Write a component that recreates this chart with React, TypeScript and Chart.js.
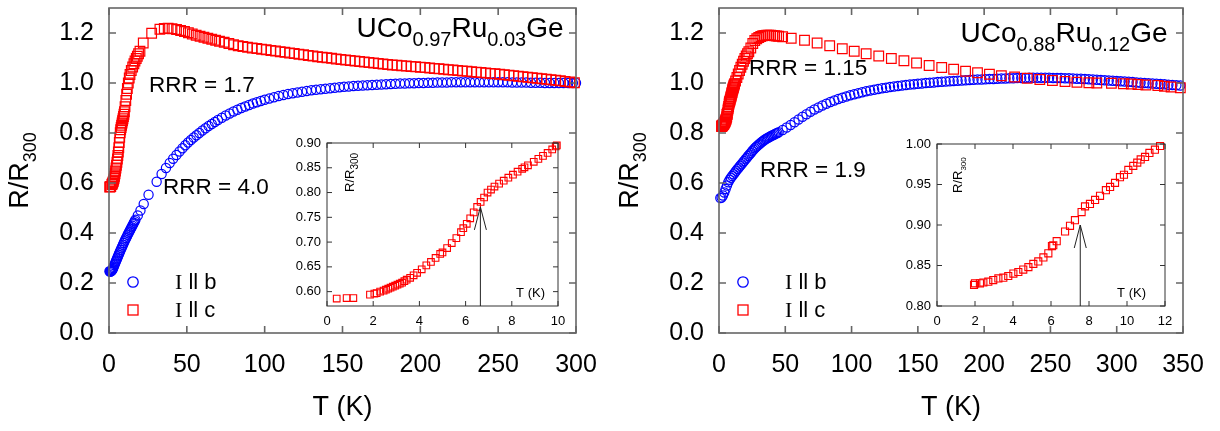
import { useEffect, useRef } from 'react';
import { Chart, registerables } from 'chart.js';

Chart.register(...registerables);

const SANS = '"Liberation Sans", Arial, Helvetica, sans-serif';
const SERIF = '"Liberation Serif", "Times New Roman", serif';
const BLUE = 'rgb(0,0,255)';
const RED = 'rgb(255,0,0)';

type Pt = [number, number];

// ---------------- tick values ----------------
const MAIN_Y_TICKS = [0, 0.2, 0.4, 0.6, 0.8, 1.0, 1.2];
const LEFT_X_TICKS = [0, 50, 100, 150, 200, 250, 300];
const RIGHT_X_TICKS = [0, 50, 100, 150, 200, 250, 300, 350];
const LEFT_INSET_X_TICKS = [0, 2, 4, 6, 8, 10];
const LEFT_INSET_Y_TICKS = [0.6, 0.65, 0.7, 0.75, 0.8, 0.85, 0.9];
const RIGHT_INSET_X_TICKS = [0, 2, 4, 6, 8, 10, 12];
const RIGHT_INSET_Y_TICKS = [0.8, 0.85, 0.9, 0.95, 1.0];

// ---------------- UCo0.97Ru0.03Ge : [T (K), R/R300] ----------------
const LEFT_I_B: Pt[] = [
  [0.3,0.247],[0.6,0.246],[0.9,0.246],[1.2,0.247],[1.5,0.248],[1.8,0.250],[2.1,0.252],[2.4,0.256],[2.7,0.260],[3.0,0.265],
  [3.4,0.271],[3.8,0.277],[4.2,0.283],[4.6,0.289],[5.0,0.295],[5.4,0.301],[5.8,0.307],[6.2,0.313],[6.6,0.319],[7.0,0.325],
  [7.5,0.332],[8.0,0.339],[8.5,0.346],[9.0,0.353],[9.5,0.360],[10,0.367],[10.5,0.374],[11,0.380],[11.5,0.386],[12,0.393],
  [12.5,0.399],[13,0.405],[13.5,0.411],[14,0.417],[14.5,0.423],[15,0.429],[15.5,0.435],[16,0.441],[16.5,0.447],[17,0.453],
  [18.5,0.470],[20.2,0.490],[22.3,0.516],[25.4,0.553],[30.6,0.605],[33.8,0.636],[36.6,0.660],[39.0,0.680],[41.2,0.697],[43.3,0.712],
  [45.3,0.726],[47.2,0.739],[49.0,0.751],[50.8,0.762],[52.6,0.772],[54.4,0.782],[56.2,0.791],[58,0.800],[60,0.810],[62,0.819],
  [64,0.828],[66,0.836],[68,0.844],[70,0.852],[72.5,0.861],[75,0.870],[77.5,0.878],[80,0.886],[82.5,0.893],[85,0.900],
  [87.5,0.906],[90,0.912],[92.5,0.918],[95,0.923],[97.5,0.928],[100,0.933],[103,0.938],[106,0.943],[109,0.948],[112,0.952],
  [115,0.956],[118,0.959],[121,0.962],[124,0.965],[127,0.968],[130,0.971],[133,0.973],[136,0.975],[139,0.977],[142,0.979],
  [145,0.981],[148,0.983],[151,0.985],[154,0.986],[157,0.988],[160,0.989],[163,0.990],[166,0.991],[169,0.992],[172,0.993],
  [175,0.994],[178,0.995],[181,0.996],[184,0.997],[187,0.998],[190,0.998],[193,0.999],[196,0.999],[199,1.000],[202,1.000],
  [205,1.001],[208,1.001],[211,1.002],[214,1.002],[217,1.002],[220,1.003],[223,1.003],[226,1.003],[229,1.003],[232,1.003],
  [235,1.003],[238,1.003],[241,1.003],[244,1.003],[247,1.003],[250,1.003],[253,1.003],[256,1.003],[259,1.002],[262,1.002],
  [265,1.002],[268,1.002],[271,1.001],[274,1.001],[277,1.001],[280,1.000],[283,1.000],[286,1.000],[289,1.000],[292,1.000],
  [295,1.000],[298,1.000],[300,1.000],
];

const LEFT_I_C: Pt[] = [
  [0.4,0.584],[0.85,0.585],[1.15,0.586],[1.85,0.594],[2.1,0.597],[2.4,0.601],[2.7,0.606],[3.0,0.612],[3.3,0.619],[3.6,0.627],
  [3.9,0.637],[4.2,0.648],[4.5,0.660],[4.8,0.671],[5.1,0.683],[5.4,0.696],[5.7,0.710],[6.0,0.724],[6.3,0.741],[6.6,0.762],
  [6.9,0.783],[7.2,0.801],[7.5,0.813],[7.8,0.822],[8.1,0.831],[8.4,0.840],[8.7,0.849],[9.0,0.857],[9.3,0.866],[9.6,0.875],
  [9.9,0.885],[10.3,0.905],[10.8,0.930],[11.3,0.955],[11.8,0.978],[12.4,1.000],[13.0,1.020],[13.5,1.034],[14.3,1.050],[15.2,1.064],
  [16.0,1.077],[16.7,1.088],[17.5,1.098],[18.2,1.107],[19.0,1.117],[19.9,1.127],[22.0,1.160],[27.4,1.199],[32.7,1.215],[35.5,1.218],
  [38.0,1.219],[40.5,1.217],[43.4,1.214],[46.0,1.210],[48.5,1.206],[51.0,1.201],[53.5,1.196],[56.0,1.191],[58.5,1.187],[61.0,1.183],
  [63.5,1.179],[66.0,1.175],[68.5,1.171],[71.0,1.167],[74.0,1.163],[77.0,1.158],[80,1.153],[83,1.149],[86,1.146],[89,1.143],
  [92,1.140],[95,1.138],[98,1.135],[101,1.133],[104,1.130],[107,1.128],[110,1.125],[113,1.123],[116,1.120],[119,1.118],
  [122,1.115],[125,1.113],[128,1.110],[131,1.108],[134,1.105],[137,1.103],[140,1.101],[143,1.099],[146,1.096],[149,1.094],
  [152,1.092],[155,1.090],[158,1.088],[161,1.086],[164,1.084],[167,1.082],[170,1.080],[173,1.078],[176,1.076],[179,1.074],
  [182,1.072],[185,1.071],[188,1.069],[191,1.068],[194,1.066],[197,1.065],[200,1.063],[203,1.062],[206,1.060],[209,1.058],
  [212,1.057],[215,1.055],[218,1.053],[221,1.052],[224,1.050],[227,1.048],[230,1.047],[233,1.045],[236,1.043],[239,1.042],
  [242,1.040],[245,1.038],[248,1.037],[251,1.035],[254,1.033],[257,1.031],[260,1.029],[263,1.027],[266,1.025],[269,1.023],
  [272,1.021],[275,1.019],[278,1.017],[281,1.015],[284,1.013],[287,1.011],[290,1.009],[293,1.006],[296,1.004],[299,1.001],
];

const LEFT_INSET_I_C: Pt[] = [
  [0.42,0.586],[0.85,0.587],[1.14,0.587],[1.86,0.594],[2.05,0.596],[2.15,0.597],[2.3,0.600],[2.45,0.602],[2.55,0.604],[2.65,0.606],
  [2.75,0.608],[2.85,0.610],[2.95,0.612],[3.05,0.614],[3.15,0.616],[3.25,0.618],[3.35,0.621],[3.45,0.624],[3.6,0.628],[3.75,0.633],
  [3.9,0.638],[4.1,0.645],[4.3,0.653],[4.5,0.660],[4.7,0.668],[4.9,0.676],[5.0,0.679],[5.2,0.688],[5.4,0.698],[5.6,0.708],
  [5.8,0.720],[5.9,0.728],[6.05,0.737],[6.2,0.748],[6.35,0.760],[6.5,0.771],[6.65,0.781],[6.8,0.790],[6.95,0.800],[7.1,0.806],
  [7.25,0.812],[7.45,0.818],[7.65,0.824],[7.85,0.830],[8.05,0.836],[8.25,0.842],[8.45,0.848],[8.55,0.851],[8.7,0.855],[8.95,0.862],
  [9.15,0.868],[9.35,0.874],[9.55,0.880],[9.75,0.887],[9.9,0.893],[9.95,0.895],
];
const LEFT_ARROW: Pt = [6.64, 0.771];

// ---------------- UCo0.88Ru0.12Ge : [T (K), R/R300] ----------------
const RIGHT_I_B: Pt[] = [
  [1,0.540],[2,0.542],[3,0.550],[4,0.562],[5,0.576],[6,0.590],[7,0.603],[8,0.613],[9,0.621],[10,0.628],
  [11,0.635],[12,0.642],[13,0.649],[14,0.656],[15,0.662],[16,0.669],[17,0.675],[18,0.682],[19,0.688],[20,0.695],
  [21,0.701],[22,0.708],[23,0.714],[24,0.720],[25,0.727],[26,0.733],[27,0.739],[28,0.744],[29,0.749],[30,0.754],
  [31,0.758],[32,0.763],[33,0.767],[34,0.771],[35,0.775],[36,0.778],[37,0.781],[38,0.784],[39,0.787],[40,0.790],
  [41,0.792],[42,0.795],[43,0.798],[44,0.800],[45,0.803],[48,0.812],[51,0.822],[54,0.832],[57,0.843],[60,0.854],
  [63,0.865],[66,0.875],[69,0.885],[72,0.894],[75,0.902],[78,0.910],[81,0.917],[84,0.924],[87,0.930],[90,0.936],
  [93,0.941],[96,0.946],[99,0.951],[102,0.955],[105,0.959],[108,0.963],[111,0.967],[114,0.970],[117,0.973],[120,0.976],
  [123,0.979],[126,0.981],[129,0.984],[132,0.986],[135,0.988],[138,0.990],[141,0.992],[144,0.994],[147,0.995],[150,0.997],
  [153,0.998],[156,1.000],[159,1.001],[162,1.002],[165,1.004],[168,1.005],[171,1.006],[174,1.007],[177,1.008],[180,1.009],
  [183,1.010],[186,1.011],[189,1.012],[192,1.013],[195,1.014],[198,1.014],[201,1.015],[204,1.016],[207,1.016],[210,1.017],
  [213,1.018],[216,1.018],[219,1.019],[222,1.019],[225,1.020],[228,1.020],[231,1.020],[234,1.021],[237,1.021],[240,1.021],
  [243,1.021],[246,1.021],[249,1.021],[252,1.020],[255,1.020],[258,1.020],[261,1.019],[264,1.019],[267,1.018],[270,1.017],
  [273,1.017],[276,1.016],[279,1.015],[282,1.014],[285,1.013],[288,1.012],[291,1.011],[294,1.010],[297,1.009],[300,1.008],
  [303,1.007],[306,1.006],[309,1.005],[312,1.004],[315,1.002],[318,1.001],[321,1.000],[324,0.999],[327,0.998],[330,0.997],
  [333,0.996],[336,0.995],[339,0.993],[342,0.992],[345,0.991],[348,0.990],
];

const RIGHT_INSET_I_C: Pt[] = [
  [1.95,0.826],[2.0,0.828],[2.26,0.828],[2.44,0.829],[2.70,0.830],[2.96,0.832],[3.23,0.834],[3.49,0.835],[3.75,0.837],[4.02,0.840],
  [4.28,0.842],[4.54,0.845],[4.81,0.848],[5.07,0.852],[5.33,0.855],[5.60,0.860],[5.86,0.865],[6.05,0.874],[6.12,0.875],[6.30,0.880],
  [6.74,0.892],[7.0,0.899],[7.26,0.906],[7.61,0.916],[7.79,0.923],[8.05,0.926],[8.32,0.931],[8.58,0.936],[8.89,0.943],[9.11,0.947],
  [9.37,0.952],[9.63,0.959],[9.84,0.962],[10.07,0.968],[10.33,0.973],[10.54,0.977],[10.72,0.981],[10.95,0.984],[11.18,0.989],[11.47,0.993],
  [11.74,0.9975],
];
const RIGHT_I_C_HIGH: Pt[] = [
  [12.5,1.008],[13.5,1.022],[14.5,1.036],[15.5,1.050],[16.5,1.063],[17.5,1.075],[18.5,1.087],[19.5,1.098],[20.5,1.108],[21.5,1.117],
  [22.5,1.125],[24,1.140],[25.5,1.158],[27,1.170],[28.5,1.177],[30,1.182],[31.5,1.186],[33,1.189],[34.5,1.190],[36,1.191],
  [37.5,1.191],[39,1.191],[40.5,1.190],[42,1.189],[43.5,1.188],[45,1.187],[48,1.185],[54.5,1.179],[64.5,1.171],[74,1.160],
  [83.5,1.149],[93,1.137],[102,1.127],[111,1.117],[120.5,1.108],[130,1.098],[139.5,1.089],[149,1.080],[158.5,1.070],[168,1.062],
  [177,1.055],[186,1.047],[195,1.041],[204,1.035],[213,1.029],[223,1.024],[232.5,1.019],[242,1.014],[251.5,1.010],[261,1.006],
  [270,1.003],[279,1.001],[285,1.000],[296,0.999],[305,0.997],[311,0.996],[316,0.994],[322,0.992],[331,0.990],[336,0.987],
  [341,0.984],[348,0.981],
];
const RIGHT_ARROW: Pt = [7.54, 0.90];

// ---------------- helpers ----------------
type Part = { t: string; size: number; dy?: number; family?: string };

function drawRich(ctx: CanvasRenderingContext2D, parts: Part[], x: number, y: number, align: 'left' | 'center' | 'right') {
  const widths = parts.map((p) => {
    ctx.font = `${p.size}px ${p.family || SANS}`;
    return ctx.measureText(p.t).width;
  });
  const total = widths.reduce((a, b) => a + b, 0);
  let cx = align === 'left' ? x : align === 'center' ? x - total / 2 : x - total;
  ctx.textAlign = 'left';
  ctx.textBaseline = 'alphabetic';
  parts.forEach((p, i) => {
    ctx.font = `${p.size}px ${p.family || SANS}`;
    ctx.fillText(p.t, cx, y + (p.dy || 0));
    cx += widths[i];
  });
}

function toXY(pts: Pt[]) {
  return pts.map(([x, y]) => ({ x, y }));
}

function framePlugin(tickLen: number, color: string, lw: number, fillWhite: boolean) {
  return {
    id: 'frameTicks',
    beforeDatasetsDraw(chart: any) {
      if (!fillWhite) return;
      const { ctx, chartArea: a } = chart;
      ctx.save();
      ctx.fillStyle = '#fff';
      ctx.fillRect(a.left, a.top, a.right - a.left, a.bottom - a.top);
      ctx.restore();
    },
    afterDraw(chart: any) {
      const { ctx, chartArea: a } = chart;
      const xs = chart.scales.x;
      const ys = chart.scales.y;
      ctx.save();
      ctx.strokeStyle = color;
      ctx.lineWidth = lw;
      ctx.strokeRect(a.left, a.top, a.right - a.left, a.bottom - a.top);
      ctx.beginPath();
      xs.ticks.forEach((t: any) => {
        const px = xs.getPixelForValue(t.value);
        ctx.moveTo(px, a.bottom);
        ctx.lineTo(px, a.bottom - tickLen);
        ctx.moveTo(px, a.top);
        ctx.lineTo(px, a.top + tickLen);
      });
      ys.ticks.forEach((t: any) => {
        const py = ys.getPixelForValue(t.value);
        ctx.moveTo(a.left, py);
        ctx.lineTo(a.left + tickLen, py);
        ctx.moveTo(a.right, py);
        ctx.lineTo(a.right - tickLen, py);
      });
      ctx.stroke();
      ctx.restore();
    },
  };
}

function scatterSet(pts: Pt[], color: string, style: string, radius: number, bw: number) {
  return {
    data: toXY(pts),
    showLine: false,
    pointStyle: style,
    pointRadius: radius,
    pointHoverRadius: radius,
    pointBorderColor: color,
    pointBackgroundColor: 'rgba(0,0,0,0)',
    pointBorderWidth: bw,
    borderColor: color,
    backgroundColor: 'rgba(0,0,0,0)',
    clip: false,
  };
}

type MainCfg = {
  xMax: number;
  xTicks: number[];
  padRight: number;
  red: Pt[];
  blue: Pt[];
  formula: Part[];
  formulaX: number;
  formulaY: number;
  rrrTop: { t: string; x: number; y: number };
  rrrBot: { t: string; x: number; y: number };
};

function makeMain(canvas: HTMLCanvasElement, cfg: MainCfg) {
  const textPlugin = {
    id: 'mainText',
    afterDraw(chart: any) {
      const { ctx, chartArea: a } = chart;
      ctx.save();
      ctx.fillStyle = '#000';
      drawRich(ctx, cfg.formula, cfg.formulaX, cfg.formulaY, 'center');
      drawRich(ctx, [{ t: cfg.rrrTop.t, size: 22.5 }], cfg.rrrTop.x, cfg.rrrTop.y, 'left');
      drawRich(ctx, [{ t: cfg.rrrBot.t, size: 22.5 }], cfg.rrrBot.x, cfg.rrrBot.y, 'left');
      ctx.font = `27px ${SANS}`;
      ctx.textAlign = 'center';
      ctx.textBaseline = 'middle';
      ctx.fillText('T (K)', (a.left + a.right) / 2, 408);
      ctx.save();
      ctx.translate(28, (a.top + a.bottom) / 2);
      ctx.rotate(-Math.PI / 2);
      drawRich(ctx, [{ t: 'R/R', size: 27 }, { t: '300', size: 18, dy: 8 }], 0, 0, 'center');
      ctx.restore();
      // legend
      ctx.strokeStyle = BLUE;
      ctx.lineWidth = 1.3;
      ctx.beginPath();
      ctx.arc(133, 282, 5.2, 0, Math.PI * 2);
      ctx.stroke();
      ctx.strokeStyle = RED;
      ctx.strokeRect(128, 305, 10, 10);
      ctx.fillStyle = '#000';
      drawRich(ctx, [{ t: 'I', size: 22, family: SERIF }, { t: ' ll b', size: 22 }], 175, 289, 'left');
      drawRich(ctx, [{ t: 'I', size: 22, family: SERIF }, { t: ' ll c', size: 22 }], 175, 317, 'left');
      ctx.restore();
    },
  };
  return new Chart(canvas, {
    type: 'scatter',
    data: {
      datasets: [
        scatterSet(cfg.red, RED, 'rect', 6.8, 1.2) as any,
        scatterSet(cfg.blue, BLUE, 'circle', 4.6, 1.2) as any,
      ],
    },
    options: {
      responsive: false,
      animation: false,
      devicePixelRatio: 1,
      events: [],
      layout: { padding: { left: 0, right: cfg.padRight, top: 2, bottom: 0 } },
      plugins: { legend: { display: false }, tooltip: { enabled: false } },
      scales: {
        x: {
          type: 'linear',
          position: 'bottom',
          min: 0,
          max: cfg.xMax,
          afterBuildTicks: (s: any) => {
            s.ticks = cfg.xTicks.map((v) => ({ value: v }));
          },
          afterFit: (s: any) => {
            s.height = 98;
            s.paddingLeft = 0;
            s.paddingRight = 0;
          },
          ticks: {
            autoSkip: false,
            maxRotation: 0,
            padding: 17,
            color: '#000',
            font: { family: SANS, size: 25 },
            callback: (v: any) => String(v),
          },
          grid: { display: false, drawTicks: false },
          border: { display: false },
        },
        y: {
          type: 'linear',
          min: 0,
          max: 1.3,
          afterBuildTicks: (s: any) => {
            s.ticks = MAIN_Y_TICKS.map((v) => ({ value: v }));
          },
          afterFit: (s: any) => {
            s.width = 109;
            s.paddingTop = 0;
            s.paddingBottom = 0;
          },
          ticks: {
            autoSkip: false,
            padding: 15,
            color: '#000',
            font: { family: SANS, size: 25 },
            callback: (v: any) => Number(v).toFixed(1),
          },
          grid: { display: false, drawTicks: false },
          border: { display: false },
        },
      },
    },
    plugins: [framePlugin(7, '#666', 1.6, false), textPlugin],
  } as any);
}

type InsetCfg = {
  xMax: number;
  yMin: number;
  yMax: number;
  xTicks: number[];
  yTicks: number[];
  padRight: number;
  padTop: number;
  data: Pt[];
  radius: number;
  arrow: Pt;
  subSize: number;
  yTitleX: number;
  yTitleY: number;
  tkX: number;
};

function makeInset(canvas: HTMLCanvasElement, cfg: InsetCfg) {
  const textPlugin = {
    id: 'insetText',
    afterDraw(chart: any) {
      const { ctx, chartArea: a } = chart;
      const xs = chart.scales.x;
      const ys = chart.scales.y;
      ctx.save();
      const ax = xs.getPixelForValue(cfg.arrow[0]);
      const ay = ys.getPixelForValue(cfg.arrow[1]);
      ctx.strokeStyle = '#222';
      ctx.lineWidth = 1;
      ctx.beginPath();
      ctx.moveTo(ax, a.bottom);
      ctx.lineTo(ax, ay);
      ctx.moveTo(ax - 6, ay + 23);
      ctx.lineTo(ax, ay);
      ctx.lineTo(ax + 6, ay + 23);
      ctx.stroke();
      ctx.fillStyle = '#000';
      drawRich(ctx, [{ t: 'T (K)', size: 13 }], cfg.tkX, a.bottom - 9, 'right');
      ctx.save();
      ctx.translate(cfg.yTitleX, cfg.yTitleY);
      ctx.rotate(-Math.PI / 2);
      drawRich(ctx, [{ t: 'R/R', size: 13 }, { t: '300', size: cfg.subSize, dy: 4 }], 0, 0, 'left');
      ctx.restore();
      ctx.restore();
    },
  };
  return new Chart(canvas, {
    type: 'scatter',
    data: { datasets: [scatterSet(cfg.data, RED, 'rect', cfg.radius, 1.1) as any] },
    options: {
      responsive: false,
      animation: false,
      devicePixelRatio: 1,
      events: [],
      layout: { padding: { left: 0, right: cfg.padRight, top: cfg.padTop, bottom: 0 } },
      plugins: { legend: { display: false }, tooltip: { enabled: false } },
      scales: {
        x: {
          type: 'linear',
          min: 0,
          max: cfg.xMax,
          afterBuildTicks: (s: any) => {
            s.ticks = cfg.xTicks.map((v) => ({ value: v }));
          },
          afterFit: (s: any) => {
            s.height = 29;
            s.paddingLeft = 0;
            s.paddingRight = 0;
          },
          ticks: {
            autoSkip: false,
            maxRotation: 0,
            padding: 8,
            color: '#000',
            font: { family: SANS, size: 13 },
            callback: (v: any) => String(v),
          },
          grid: { display: false, drawTicks: false },
          border: { display: false },
        },
        y: {
          type: 'linear',
          min: cfg.yMin,
          max: cfg.yMax,
          afterBuildTicks: (s: any) => {
            s.ticks = cfg.yTicks.map((v) => ({ value: v }));
          },
          afterFit: (s: any) => {
            s.width = 47;
            s.paddingTop = 0;
            s.paddingBottom = 0;
          },
          ticks: {
            autoSkip: false,
            padding: 6,
            color: '#000',
            font: { family: SANS, size: 13 },
            callback: (v: any) => Number(v).toFixed(2),
          },
          grid: { display: false, drawTicks: false },
          border: { display: false },
        },
      },
    },
    plugins: [framePlugin(5, '#333', 1, true), textPlugin],
  } as any);
}

function ChartBox(props: { left: number; top: number; width: number; height: number; make: (c: HTMLCanvasElement) => Chart }) {
  const ref = useRef<HTMLCanvasElement>(null);
  useEffect(() => {
    const chart = props.make(ref.current as HTMLCanvasElement);
    return () => chart.destroy();
  }, []);
  return (
    <canvas
      ref={ref}
      width={props.width}
      height={props.height}
      style={{ position: 'absolute', left: props.left, top: props.top, width: props.width, height: props.height }}
    />
  );
}

export default function App() {
  return (
    <div style={{ position: 'fixed', left: 0, top: 0, width: 1220, height: 431, background: '#fff', overflow: 'hidden' }}>
      <ChartBox
        left={0}
        top={0}
        width={610}
        height={431}
        make={(c) =>
          makeMain(c, {
            xMax: 300,
            xTicks: LEFT_X_TICKS,
            padRight: 34,
            red: LEFT_I_C,
            blue: LEFT_I_B,
            formula: [
              { t: 'UCo', size: 28 },
              { t: '0.97', size: 20, dy: 9 },
              { t: 'Ru', size: 28 },
              { t: '0.03', size: 20, dy: 9 },
              { t: 'Ge', size: 28 },
            ],
            formulaX: 460,
            formulaY: 37,
            rrrTop: { t: 'RRR = 1.7', x: 149, y: 92 },
            rrrBot: { t: 'RRR = 4.0', x: 163, y: 194 },
          })
        }
      />
      <ChartBox
        left={610}
        top={0}
        width={610}
        height={431}
        make={(c) =>
          makeMain(c, {
            xMax: 350,
            xTicks: RIGHT_X_TICKS,
            padRight: 37,
            red: [...RIGHT_INSET_I_C, ...RIGHT_I_C_HIGH],
            blue: RIGHT_I_B,
            formula: [
              { t: 'UCo', size: 28 },
              { t: '0.88', size: 20, dy: 9 },
              { t: 'Ru', size: 28 },
              { t: '0.12', size: 20, dy: 9 },
              { t: 'Ge', size: 28 },
            ],
            formulaX: 454,
            formulaY: 42,
            rrrTop: { t: 'RRR = 1.15', x: 139, y: 75 },
            rrrBot: { t: 'RRR = 1.9', x: 150, y: 177 },
          })
        }
      />
      <ChartBox
        left={280}
        top={130}
        width={290}
        height={205}
        make={(c) =>
          makeInset(c, {
            xMax: 10,
            yMin: 0.571,
            yMax: 0.9,
            xTicks: LEFT_INSET_X_TICKS,
            yTicks: LEFT_INSET_Y_TICKS,
            padRight: 12,
            padTop: 13,
            data: LEFT_INSET_I_C,
            radius: 4.7,
            arrow: LEFT_ARROW,
            subSize: 10,
            yTitleX: 74,
            yTitleY: 62,
            tkX: 265,
          })
        }
      />
      <ChartBox
        left={890}
        top={130}
        width={290}
        height={205}
        make={(c) =>
          makeInset(c, {
            xMax: 12,
            yMin: 0.8,
            yMax: 1.0,
            xTicks: RIGHT_INSET_X_TICKS,
            yTicks: RIGHT_INSET_Y_TICKS,
            padRight: 15,
            padTop: 14,
            data: RIGHT_INSET_I_C,
            radius: 5.0,
            arrow: RIGHT_ARROW,
            subSize: 8,
            yTitleX: 72,
            yTitleY: 63,
            tkX: 256,
          })
        }
      />
    </div>
  );
}
